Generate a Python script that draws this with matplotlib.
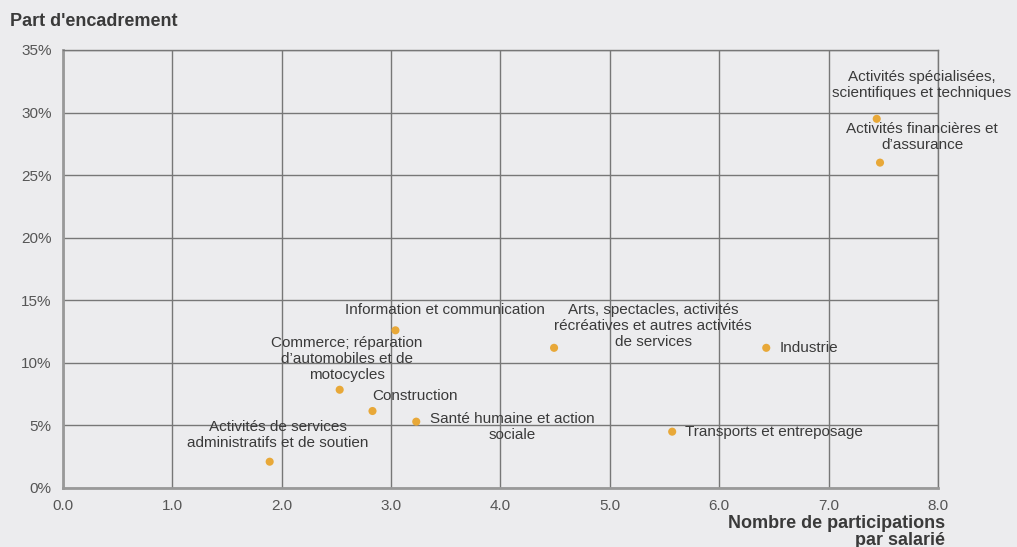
import matplotlib.pyplot as plt
from matplotlib.ticker import FuncFormatter

# secteurs, participations par salarié, part d'encadrement (%)
secteurs = [
    "Activités de services\nadministratifs et de soutien",
    "Commerce; réparation\nd’automobiles et de\nmotocycles",
    "Construction",
    "Information et communication",
    "Santé humaine et action\nsociale",
    "Arts, spectacles, activités\nrécréatives et autres activités\nde services",
    "Transports et entreposage",
    "Industrie",
    "Activités spécialisées,\nscientifiques et techniques",
    "Activités financières et\nd’assurance",
]
participations = [1.89, 2.53, 2.83, 3.04, 3.23, 4.49, 5.57, 6.43, 7.44, 7.47]
encadrement = [2.1, 7.85, 6.15, 12.6, 5.3, 11.2, 4.5, 11.2, 29.5, 26.0]

# position des étiquettes (pixels) par rapport au point
offsets = [(8, 27, "center"), (7, 31, "center"), (43, 15, "center"),
           (49, 20, "center"), (14, -5, "left"), (99, 22, "center"),
           (13, 0, "left"), (13, 0, "left"), (45, 34, "center"),
           (42, 26, "center")]

bg = "#ECECEE"
txt = "#3a3a3a"
plt.rcParams["font.family"] = ["Liberation Sans", "DejaVu Sans"]

fig = plt.figure(figsize=(10.17, 5.47), dpi=100, facecolor=bg)
ax = fig.add_axes([0.0619, 0.1079, 0.8604, 0.8007])
ax.set_facecolor(bg)

ax.scatter(participations, encadrement, s=34, color="#E8A838", zorder=3,
           edgecolors="none")

for i in range(len(secteurs)):
    dx, dy, ha = offsets[i]
    ax.annotate(secteurs[i], (participations[i], encadrement[i]),
                xytext=(dx, dy), textcoords="offset pixels", ha=ha,
                va="center", multialignment="center", fontsize=11,
                color=txt, linespacing=1.17, zorder=4)

ax.set_xlim(0, 8)
ax.set_ylim(0, 35)
ax.set_xticks(range(0, 9))
ax.set_yticks(range(0, 36, 5))
ax.xaxis.set_major_formatter(FuncFormatter(lambda v, p: "%.1f" % v))
ax.yaxis.set_major_formatter(FuncFormatter(lambda v, p: "%d%%" % v))
ax.tick_params(length=0, labelsize=11, colors="#555555", pad=8)
ax.grid(True, color="#777777", linewidth=1)
for s in ax.spines.values():
    s.set_color("#777777")
    s.set_linewidth(1)
ax.spines["left"].set_color("#999999")
ax.spines["left"].set_linewidth(2)
ax.spines["bottom"].set_color("#999999")
ax.spines["bottom"].set_linewidth(2)
ax.set_axisbelow(True)

fig.text(10 / 1017, 1 - 22 / 547, "Part d'encadrement", fontsize=13,
         fontweight="bold", color=txt, va="center", ha="left")
fig.text(945 / 1017, 1 - 532 / 547, "Nombre de participations\npar salarié",
         fontsize=13, fontweight="bold", color=txt, va="center", ha="right",
         multialignment="right", linespacing=0.98)

fig.savefig("out.png", dpi=100, facecolor=bg)
